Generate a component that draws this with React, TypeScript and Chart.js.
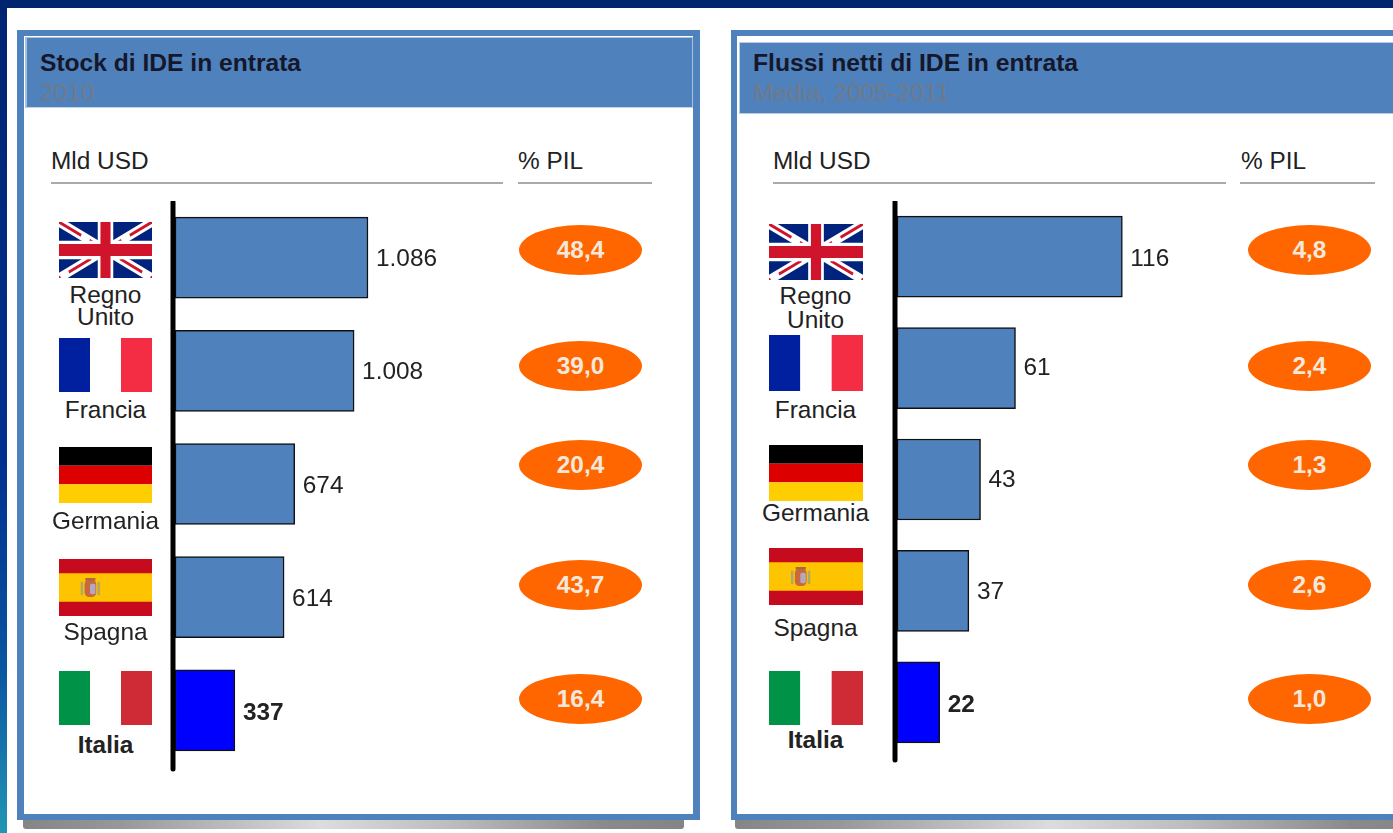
import React, { useEffect, useRef } from "react";
import { Chart, registerables } from "chart.js";

Chart.register(...registerables);

const countries = ["Regno Unito", "Francia", "Germania", "Spagna", "Italia"];
const flagCodes = ["uk", "fr", "de", "es", "it"];
const stockValues = [1086, 1008, 674, 614, 337];
const stockPil = [48.4, 39.0, 20.4, 43.7, 16.4];
const flowValues = [116, 61, 43, 37, 22];
const flowPil = [4.8, 2.4, 1.3, 2.6, 1.0];

const FONT = '"Liberation Sans", Arial, sans-serif';
const BLUE = "#4f81bd";

const fmtInt = (v: number) => String(v).replace(/\B(?=(\d{3})+$)/g, ".");
const fmtDec = (v: number) => v.toFixed(1).replace(".", ",");

function Flag({ code, x, y, w, h }: { code: string; x: number; y: number; w: number; h: number }) {
  let inner: React.ReactNode = null;
  if (code === "uk") {
    inner = (
      <>
        <rect width="60" height="30" fill="#00247d" />
        <path d="M0,0L60,30M60,0L0,30" stroke="#fff" strokeWidth="5" />
        <path d="M0,0L60,30M60,0L0,30" stroke="#cf142b" strokeWidth="1.6" strokeDasharray="16 6 16 6" />
        <path d="M30,0V30M0,15H60" stroke="#fff" strokeWidth="10" />
        <path d="M30,0V30M0,15H60" stroke="#cf142b" strokeWidth="6.5" />
      </>
    );
  } else if (code === "fr") {
    inner = (
      <>
        <rect width="20" height="30" fill="#00209f" />
        <rect x="20" width="20" height="30" fill="#fff" />
        <rect x="40" width="20" height="30" fill="#f42c44" />
      </>
    );
  } else if (code === "de") {
    inner = (
      <>
        <rect width="60" height="10" fill="#000" />
        <rect y="10" width="60" height="10" fill="#dd0000" />
        <rect y="20" width="60" height="10" fill="#ffce00" />
      </>
    );
  } else if (code === "es") {
    inner = (
      <>
        <rect width="60" height="30" fill="#c60b1e" />
        <rect y="7.5" width="60" height="15" fill="#ffc400" />
        <rect x="16.5" y="11" width="7.5" height="9" rx="2.5" fill="#c8683c" />
        <rect x="20" y="13" width="3.5" height="5.5" rx="1" fill="#b4a8c0" />
        <rect x="14" y="12" width="1.6" height="7" fill="#b0a868" />
        <rect x="24.8" y="12" width="1.6" height="7" fill="#b0a868" />
        <rect x="17" y="10" width="6.5" height="1.4" fill="#a86a40" />
      </>
    );
  } else {
    inner = (
      <>
        <rect width="20" height="30" fill="#009246" />
        <rect x="20" width="20" height="30" fill="#fff" />
        <rect x="40" width="20" height="30" fill="#ce2b37" />
      </>
    );
  }
  return (
    <svg
      viewBox="0 0 60 30"
      preserveAspectRatio="none"
      style={{ position: "absolute", left: x, top: y, width: w, height: h }}
    >
      {inner}
    </svg>
  );
}

function Txt({
  x, y, children, bold, color, center, size,
}: { x: number; y: number; children: React.ReactNode; bold?: boolean; color?: string; center?: boolean; size?: number }) {
  return (
    <div
      style={{
        position: "absolute",
        left: x,
        top: y,
        transform: center ? "translate(-50%,-50%)" : "translateY(-50%)",
        font: `${bold ? "bold " : ""}${size ?? 24.4}px ${FONT}`,
        lineHeight: "28px",
        color: color ?? "#222",
        whiteSpace: "nowrap",
      }}
    >
      {children}
    </div>
  );
}

function Bars({
  values, left, width, top, height, max, labelDy,
}: { values: number[]; left: number; width: number; top: number; height: number; max: number; labelDy: number[] }) {
  const ref = useRef<HTMLCanvasElement>(null);
  useEffect(() => {
    const labelPlugin = {
      id: "valueLabels",
      afterDatasetsDraw(chart: any) {
        const { ctx, chartArea } = chart;
        ctx.save();
        // axis line with round caps, running past the bars
        ctx.strokeStyle = "#000";
        ctx.lineWidth = 5;
        ctx.lineCap = "round";
        ctx.beginPath();
        ctx.moveTo(chartArea.left - 2, chartArea.top + 1);
        ctx.lineTo(chartArea.left - 2, chartArea.bottom + 2);
        ctx.stroke();
        const meta = chart.getDatasetMeta(0);
        ctx.textBaseline = "middle";
        ctx.textAlign = "left";
        ctx.fillStyle = "#222";
        meta.data.forEach((bar: any, i: number) => {
          ctx.font = `${i === values.length - 1 ? "bold " : ""}24.4px ${FONT}`;
          ctx.fillText(fmtInt(values[i]), bar.x + 8, bar.y + 1 + labelDy[i]);
        });
        ctx.restore();
      },
    };
    const chart = new Chart(ref.current!, {
      type: "bar",
      data: {
        labels: countries,
        datasets: [
          {
            data: values,
            backgroundColor: values.map((_, i) => (i === values.length - 1 ? "#0000ff" : BLUE)),
            borderColor: "#111",
            borderWidth: 1.5,
            borderSkipped: false,
            barThickness: 81,
          },
        ],
      },
      options: {
        indexAxis: "y",
        animation: false,
        responsive: false,
        events: [],
        layout: { padding: { left: 15, top: 0, right: 0, bottom: 6 } },
        plugins: { legend: { display: false }, tooltip: { enabled: false } },
        scales: {
          x: { display: false, min: 0, max },
          y: { display: false },
        },
      },
      plugins: [labelPlugin],
    } as any);
    return () => chart.destroy();
  }, []);
  return (
    <canvas
      ref={ref}
      width={width}
      height={height}
      style={{ position: "absolute", left, top, width, height, display: "block" }}
    />
  );
}

function Oval({ cx, cy, value }: { cx: number; cy: number; value: number }) {
  return (
    <div
      style={{
        position: "absolute",
        left: cx - 61.5,
        top: cy - 25,
        width: 123,
        height: 50,
        borderRadius: "50%",
        background: "#ff6600",
        color: "#f2e8dc",
        font: `bold 24.4px ${FONT}`,
        lineHeight: "50px",
        textAlign: "center",
      }}
    >
      {fmtDec(value)}
    </div>
  );
}

function box(x: number, y: number, w: number, h: number, extra: React.CSSProperties = {}) {
  return <div style={{ position: "absolute", left: x, top: y, width: w, height: h, ...extra }} />;
}

const shadowGrad = "linear-gradient(90deg,#858585 0%,#989898 15%,#dcdcdc 45%,#bcbcbc 65%,#8a8a8a 88%,#858585 100%)";

export default function App() {
  useEffect(() => {
    document.body.style.margin = "0";
  }, []);
  return (
    <div
      style={{
        position: "absolute",
        left: 0,
        top: 0,
        width: 1393,
        height: 833,
        overflow: "hidden",
        background: "#fff",
        filter: "blur(0.5px)",
      }}
    >
      {box(0, 0, 7, 833, { background: "linear-gradient(180deg,#002470 0%,#00308f 55%,#0a55a0 80%,#2196b4 100%)" })}
      {box(0, 0, 1393, 8, { background: "#00246e" })}

      {/* left panel */}
      {box(22.5, 820, 661.5, 9, { background: shadowGrad, borderRadius: "0 0 3px 3px" })}
      {box(16.5, 30, 683.5, 790, { background: BLUE })}
      {box(24, 36, 669, 778, { background: "#fff" })}
      {box(24.5, 36.5, 668, 71, { background: BLUE, border: "1px solid #a9c1de", borderLeftWidth: 2, borderBottomColor: "#c5d5e8", boxSizing: "border-box" })}
      <Txt x={40} y={63} bold color="#14182a" size={24.6}>Stock di IDE in entrata</Txt>
      <Txt x={40} y={93} color="#6f7a88">2010</Txt>
      <Txt x={51} y={161}>Mld USD</Txt>
      <Txt x={518} y={161}>% PIL</Txt>
      {box(51, 182, 452, 2, { background: "#aaa" })}
      {box(518, 182, 134, 2, { background: "#aaa" })}

      {/* right panel */}
      {box(735, 820, 700, 9, { background: shadowGrad, borderRadius: "0 0 0 3px" })}
      {box(731, 30, 700, 790, { background: BLUE })}
      {box(737, 36, 700, 778, { background: "#fff" })}
      {box(738.5, 42, 700, 71.5, { background: BLUE, border: "1px solid #b8cce4", boxSizing: "border-box" })}
      <Txt x={753} y={63} bold color="#14182a" size={24.7}>Flussi netti di IDE in entrata</Txt>
      <Txt x={753} y={93} color="#6f7a88" size={24.6}>Media, 2005-2011</Txt>
      <Txt x={773} y={161}>Mld USD</Txt>
      <Txt x={1241} y={161}>% PIL</Txt>
      {box(773, 182, 453, 2, { background: "#aaa" })}
      {box(1240, 182, 135, 2, { background: "#aaa" })}

      <Bars values={stockValues} left={160} width={340} top={201} height={572} max={1829} labelDy={[1, 0, 1, 1.5, 2]} />
      <Bars values={flowValues} left={882} width={320} top={201} height={563} max={157} labelDy={[2, -1, 0, 0, 2]} />

      {flagCodes.map((c, i) => (
        <Flag key={c} code={c} x={59} y={[222, 338, 447, 559, 671][i]} w={93} h={[56, 54, 56, 57, 54][i]} />
      ))}
      {flagCodes.map((c, i) => (
        <Flag key={c} code={c} x={769} y={[224, 335, 445, 548, 671][i]} w={94} h={[56, 56, 56, 57, 54][i]} />
      ))}

      <Txt x={105.5} y={295} center>Regno</Txt>
      <Txt x={105.5} y={317} center>Unito</Txt>
      <Txt x={105.5} y={410} center>{countries[1]}</Txt>
      <Txt x={105.5} y={521} center>{countries[2]}</Txt>
      <Txt x={105.5} y={632} center>{countries[3]}</Txt>
      <Txt x={105.5} y={745} center bold>{countries[4]}</Txt>

      <Txt x={815.5} y={296} center>Regno</Txt>
      <Txt x={815.5} y={320} center>Unito</Txt>
      <Txt x={815.5} y={410} center>{countries[1]}</Txt>
      <Txt x={815.5} y={513} center>{countries[2]}</Txt>
      <Txt x={815.5} y={628} center>{countries[3]}</Txt>
      <Txt x={815.5} y={740} center bold>{countries[4]}</Txt>

      {stockPil.map((v, i) => (
        <Oval key={i} cx={580.5} cy={[250, 366, 465, 585, 699][i]} value={v} />
      ))}
      {flowPil.map((v, i) => (
        <Oval key={i} cx={1309.5} cy={[250, 366, 465, 585, 699][i]} value={v} />
      ))}
    </div>
  );
}
